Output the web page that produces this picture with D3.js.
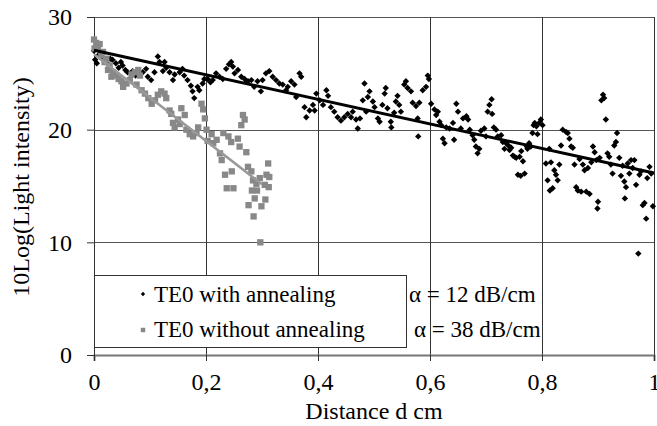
<!DOCTYPE html>
<html>
<head>
<meta charset="utf-8">
<script src="https://cdn.jsdelivr.net/npm/d3@7"></script>
<style>
body{margin:0;background:#fff;}
text{font-family:"Liberation Serif","Times New Roman",serif;fill:#000;}
</style>
</head>
<body>
<div class="container"></div>
<script>
const WIDTH = 657;
const HEIGHT = 426;
const MARGIN = {top: 17, right: 3, bottom: 71, left: 94};
const INNER_WIDTH = WIDTH - MARGIN.left - MARGIN.right;
const INNER_HEIGHT = HEIGHT - MARGIN.top - MARGIN.bottom;
const FONT = '24px';
const LEGEND_FONT = '23px';

// data: [distance cm, 10log(I)]
const annealed = [[0.000,27.0],[0.002,26.2],[0.005,25.9],[0.008,26.6],[0.013,26.4],[0.019,26.0],[0.025,25.8],[0.029,26.3],[0.033,26.2],[0.039,25.9],[0.044,25.5],[0.048,26.0],[0.051,25.7],[0.056,25.3],[0.060,25.1],[0.069,25.2],[0.074,24.8],[0.078,25.0],[0.087,25.1],[0.093,25.4],[0.096,24.7],[0.102,24.4],[0.108,25.1],[0.114,26.5],[0.117,26.0],[0.123,25.2],[0.126,26.0],[0.129,25.5],[0.135,25.1],[0.141,24.4],[0.144,24.9],[0.153,25.1],[0.158,25.4],[0.161,24.8],[0.167,24.4],[0.173,23.9],[0.176,23.4],[0.179,22.8],[0.185,23.8],[0.188,23.5],[0.194,24.1],[0.197,24.5],[0.203,24.5],[0.208,24.2],[0.212,24.4],[0.218,25.0],[0.224,24.7],[0.230,24.5],[0.236,25.4],[0.241,25.8],[0.245,26.0],[0.248,25.6],[0.251,25.0],[0.257,25.3],[0.263,24.7],[0.269,24.5],[0.275,24.3],[0.281,24.4],[0.286,23.8],[0.292,24.3],[0.298,23.4],[0.301,24.4],[0.307,25.0],[0.313,25.2],[0.319,24.7],[0.325,24.4],[0.331,24.1],[0.337,24.0],[0.343,23.5],[0.346,23.8],[0.352,24.3],[0.358,24.0],[0.361,22.9],[0.367,25.0],[0.370,24.7],[0.376,22.0],[0.379,21.1],[0.385,21.7],[0.391,22.2],[0.394,21.7],[0.397,23.2],[0.403,22.6],[0.409,22.2],[0.415,23.5],[0.418,23.0],[0.423,22.0],[0.429,21.6],[0.435,21.1],[0.441,20.8],[0.447,21.1],[0.453,21.4],[0.459,21.1],[0.462,21.6],[0.468,20.9],[0.471,20.1],[0.475,21.0],[0.480,22.6],[0.483,24.1],[0.486,21.6],[0.489,22.9],[0.492,23.4],[0.498,22.5],[0.501,22.0],[0.507,21.0],[0.510,20.7],[0.515,22.2],[0.519,23.2],[0.521,23.7],[0.524,21.9],[0.530,20.7],[0.531,20.2],[0.536,21.5],[0.539,22.5],[0.542,23.0],[0.545,22.2],[0.548,21.6],[0.554,24.0],[0.557,24.3],[0.560,23.7],[0.566,23.4],[0.569,22.4],[0.575,22.1],[0.578,21.0],[0.579,19.4],[0.581,22.4],[0.587,23.5],[0.593,23.8],[0.596,24.8],[0.598,24.5],[0.602,22.3],[0.608,21.8],[0.611,21.3],[0.614,21.6],[0.617,20.7],[0.620,20.4],[0.623,19.2],[0.626,18.8],[0.629,20.2],[0.635,20.1],[0.641,20.6],[0.643,19.1],[0.647,22.3],[0.650,21.6],[0.655,20.1],[0.659,21.0],[0.665,21.2],[0.668,20.9],[0.671,20.0],[0.676,19.5],[0.679,19.1],[0.682,18.5],[0.685,17.9],[0.688,18.3],[0.691,19.9],[0.697,20.1],[0.700,19.4],[0.703,21.6],[0.706,22.2],[0.710,22.7],[0.711,21.4],[0.714,20.2],[0.718,20.0],[0.721,19.4],[0.727,19.5],[0.730,18.9],[0.733,18.3],[0.736,18.8],[0.740,18.6],[0.742,18.2],[0.745,18.4],[0.748,17.7],[0.751,17.6],[0.754,17.5],[0.757,16.0],[0.760,17.6],[0.762,15.9],[0.763,18.1],[0.766,17.2],[0.769,16.1],[0.773,18.5],[0.774,18.3],[0.777,18.8],[0.780,18.5],[0.783,19.7],[0.785,20.4],[0.787,20.6],[0.790,20.3],[0.792,19.6],[0.795,20.6],[0.798,20.9],[0.801,20.4],[0.807,17.0],[0.810,15.5],[0.813,18.3],[0.814,14.6],[0.816,17.1],[0.819,14.8],[0.822,16.4],[0.825,16.0],[0.828,15.5],[0.831,16.9],[0.834,18.6],[0.837,20.0],[0.843,19.8],[0.846,19.7],[0.849,19.2],[0.852,18.5],[0.855,18.4],[0.858,16.9],[0.861,14.9],[0.864,14.6],[0.867,17.4],[0.870,14.5],[0.873,16.9],[0.876,16.4],[0.879,14.5],[0.882,16.6],[0.885,14.3],[0.888,17.1],[0.891,18.5],[0.894,18.0],[0.897,17.3],[0.899,13.0],[0.900,13.6],[0.903,17.5],[0.906,22.6],[0.909,23.1],[0.911,22.8],[0.914,20.9],[0.917,17.9],[0.920,17.6],[0.923,16.9],[0.926,16.1],[0.929,18.6],[0.932,18.9],[0.934,19.7],[0.938,17.5],[0.941,15.9],[0.944,16.8],[0.947,15.4],[0.948,13.9],[0.950,14.9],[0.953,17.0],[0.956,16.1],[0.959,17.3],[0.962,16.6],[0.965,17.3],[0.968,15.1],[0.972,9.0],[0.974,16.0],[0.977,16.3],[0.980,13.3],[0.983,13.5],[0.986,12.1],[0.988,15.7],[0.992,16.7],[0.995,16.1],[0.998,13.2]];

const unannealed = [[0.000,28.0],[0.001,27.2],[0.004,27.7],[0.007,27.2],[0.010,27.6],[0.013,26.6],[0.016,26.9],[0.019,26.0],[0.022,26.3],[0.025,25.3],[0.028,25.7],[0.031,24.7],[0.034,25.1],[0.040,24.8],[0.044,24.5],[0.049,24.3],[0.052,23.8],[0.058,24.1],[0.064,24.4],[0.067,24.9],[0.073,25.1],[0.076,24.0],[0.079,25.3],[0.082,24.8],[0.085,23.5],[0.091,23.2],[0.097,22.8],[0.103,22.3],[0.109,22.6],[0.114,23.1],[0.120,23.4],[0.126,23.2],[0.129,22.8],[0.135,21.7],[0.138,21.4],[0.141,20.6],[0.144,20.2],[0.150,20.9],[0.153,20.5],[0.156,21.9],[0.162,21.3],[0.165,20.0],[0.171,19.6],[0.177,19.4],[0.183,19.7],[0.186,20.2],[0.192,22.3],[0.195,21.8],[0.198,21.0],[0.201,20.0],[0.203,19.0],[0.210,19.6],[0.213,18.8],[0.219,19.1],[0.225,17.9],[0.228,17.3],[0.231,19.7],[0.234,16.0],[0.237,14.8],[0.240,19.4],[0.245,18.9],[0.246,16.3],[0.249,14.8],[0.257,19.2],[0.260,18.5],[0.263,20.4],[0.266,21.3],[0.269,20.9],[0.272,18.0],[0.275,16.7],[0.276,13.3],[0.281,16.3],[0.282,14.6],[0.284,15.5],[0.285,12.3],[0.287,13.9],[0.290,15.2],[0.291,14.6],[0.296,15.7],[0.297,10.0],[0.299,13.2],[0.305,15.1],[0.306,13.8],[0.308,16.0],[0.311,17.0],[0.312,14.9],[0.313,15.8]];

// linear trend lines (dB scale)
const fitAnnealed = [[0, 27.05], [1, 16.15]];
const fitUnannealed = [[0, 26.7], [0.30, 15.15]];

const xTicks = [0, 0.2, 0.4, 0.6, 0.8, 1];
const yTicks = [0, 10, 20, 30];
const legendLabels = ["TE0 with annealing", "TE0 without annealing"];
const alphaLabels = ["\u03b1 = 12 dB/cm", "\u03b1 = 38 dB/cm"];

var translate = function(x, y){
	return "translate(" + x + "," + y + ")";
};

var comma = d3.formatLocale({decimal: ",", thousands: ".", grouping: [3], currency: ["", ""]}).format("~g");

var svg = d3.select('.container').append('svg')
	.attr('width', WIDTH)
	.attr('height', HEIGHT);

var xScale = d3.scaleLinear().domain([0, 1]).range([0, INNER_WIDTH]);
var yScale = d3.scaleLinear().domain([0, 30]).range([INNER_HEIGHT, 0]);

var g = svg.append('g').attr('transform', translate(MARGIN.left, MARGIN.top));

// grid
g.append('g').selectAll('line').data(yTicks.filter(d => d > 0)).enter().append('line')
	.attr('x1', 0).attr('x2', INNER_WIDTH)
	.attr('y1', d => Math.round(yScale(d)) + 0.5).attr('y2', d => Math.round(yScale(d)) + 0.5)
	.attr('stroke', '#555').attr('stroke-width', 1);

g.append('g').selectAll('line').data(xTicks.filter(d => d > 0)).enter().append('line')
	.attr('x1', d => Math.round(xScale(d)) + 0.5).attr('x2', d => Math.round(xScale(d)) + 0.5)
	.attr('y1', 0).attr('y2', INNER_HEIGHT)
	.attr('stroke', '#333').attr('stroke-width', 1);

// axes
var xAxis = d3.axisBottom(xScale).tickValues(xTicks).tickSize(6).tickPadding(12).tickFormat(comma);
var yAxis = d3.axisLeft(yScale).tickValues(yTicks).tickSize(7).tickPadding(15);

var gx = g.append('g').attr('transform', translate(0, INNER_HEIGHT)).call(xAxis);
var gy = g.append('g').call(yAxis);
[gx, gy].forEach(function(a){
	a.select('.domain').attr('stroke', '#777').attr('stroke-width', 2);
	a.selectAll('.tick line').attr('stroke', '#333');
	a.selectAll('.tick text').style('font-size', FONT).style('font-family', '"Liberation Serif", serif');
});
gy.select('.domain').attr('stroke', '#333').attr('stroke-width', 1);

// points
var diamond = d3.symbol().type(d3.symbolDiamond2).size(26);
var square = d3.symbol().type(d3.symbolSquare).size(40);

g.append('g').selectAll('path').data(annealed).enter().append('path')
	.attr('d', diamond)
	.attr('transform', d => translate(xScale(d[0]), yScale(d[1])))
	.attr('fill', '#000');

g.append('g').selectAll('path').data(unannealed).enter().append('path')
	.attr('d', square)
	.attr('transform', d => translate(xScale(d[0]), yScale(d[1])))
	.attr('fill', '#888');

var line = d3.line().x(d => xScale(d[0])).y(d => yScale(d[1]));

g.append('path').datum(fitAnnealed).attr('d', line)
	.attr('fill', 'none').attr('stroke', '#000').attr('stroke-width', 3);
g.append('path').datum(fitUnannealed).attr('d', line)
	.attr('fill', 'none').attr('stroke', '#999').attr('stroke-width', 2.5);

// legend
var legend = svg.append('g').attr('transform', translate(94, 275));
legend.append('rect')
	.attr('x', 0.5).attr('y', 0.5).attr('width', 312).attr('height', 72)
	.attr('fill', '#fff').attr('stroke', '#333').attr('stroke-width', 1);

var rows = legend.selectAll('.row').data(legendLabels).enter().append('g')
	.attr('class', 'row')
	.attr('transform', (d, i) => translate(0, 27 + i * 35));
rows.append('path')
	.attr('d', (d, i) => i === 0 ? d3.symbol().type(d3.symbolDiamond2).size(12)() : d3.symbol().type(d3.symbolSquare).size(20)())
	.attr('transform', (d, i) => translate(49, i === 0 ? -8 : -7))
	.attr('fill', (d, i) => i === 0 ? '#000' : '#888');
rows.append('text')
	.attr('x', 60).attr('y', 0)
	.style('font-size', LEGEND_FONT)
	.text(d => d);

svg.append('g').selectAll('text').data(alphaLabels).enter().append('text')
	.attr('x', (d, i) => 409 + i * 5)
	.attr('y', (d, i) => 302 + i * 35)
	.style('font-size', LEGEND_FONT)
	.text(d => d);

// axis titles
svg.append('text')
	.attr('x', MARGIN.left + INNER_WIDTH / 2).attr('y', 419)
	.attr('text-anchor', 'middle')
	.style('font-size', FONT)
	.text('Distance d cm');

svg.append('text')
	.attr('transform', translate(29, 187) + ' rotate(-90)')
	.attr('text-anchor', 'middle')
	.style('font-size', FONT)
	.text('10Log(Light intensity)');
</script>
</body>
</html>
